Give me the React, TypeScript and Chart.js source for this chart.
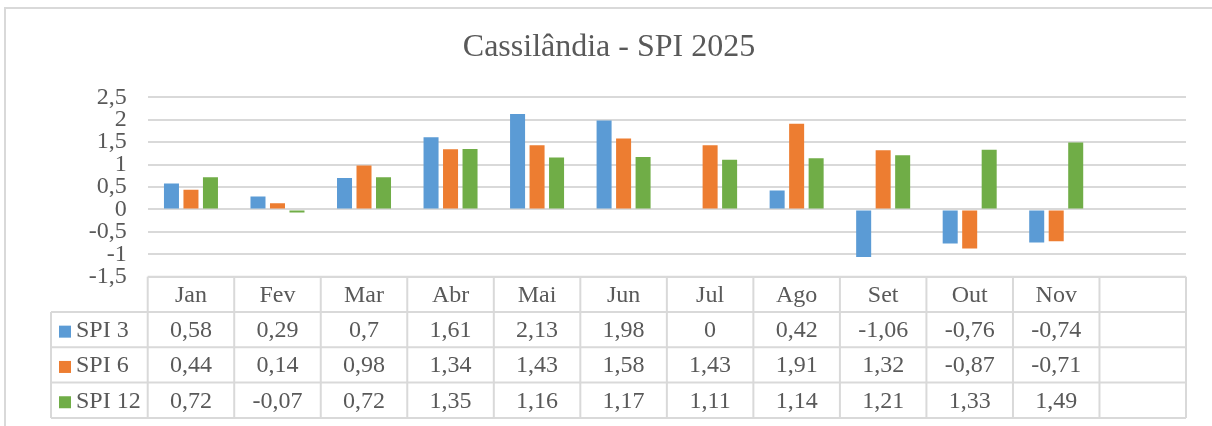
import React, { useEffect, useRef } from "react";
import { Chart, registerables } from "chart.js";

Chart.register(...registerables);

const categories = ["Jan", "Fev", "Mar", "Abr", "Mai", "Jun", "Jul", "Ago", "Set", "Out", "Nov", ""];
const spi3 = [0.58, 0.29, 0.7, 1.61, 2.13, 1.98, 0, 0.42, -1.06, -0.76, -0.74, null];
const spi6 = [0.44, 0.14, 0.98, 1.34, 1.43, 1.58, 1.43, 1.91, 1.32, -0.87, -0.71, null];
const spi12 = [0.72, -0.07, 0.72, 1.35, 1.16, 1.17, 1.11, 1.14, 1.21, 1.33, 1.49, null];
const seriesNames = ["SPI 3", "SPI 6", "SPI 12"];
const seriesColors = ["#5B9BD5", "#ED7D31", "#70AD47"];
const chartTitle = "Cassilândia - SPI 2025";
const yMin = -1.5;
const yMax = 2.5;
const yStep = 0.5;

const FONT = "'Liberation Serif', 'Times New Roman', serif";
const TEXT = "#595959";
const LINE = "#D9D9D9";

const fmt = (v: number | null) => (v === null || v === undefined ? "" : String(v).replace(".", ","));

const tablePlugin = {
  id: "dataTable",
  afterDraw(chart: any) {
    const { ctx, chartArea } = chart;
    const xs = chart.scales.x;
    const n = categories.length;
    const colW = (xs.right - xs.left) / n;
    const top = chartArea.bottom;
    const rowH = 35.3;
    const legendLeft = 51;
    const left = xs.left;
    const right = xs.right;
    const rows = [spi3, spi6, spi12];

    ctx.save();
    ctx.strokeStyle = LINE;
    ctx.lineWidth = 2;
    const line = (x1: number, y1: number, x2: number, y2: number) => {
      ctx.beginPath();
      ctx.moveTo(x1, y1);
      ctx.lineTo(x2, y2);
      ctx.stroke();
    };
    line(left, top, right, top);
    for (let r = 1; r <= 4; r++) line(legendLeft, top + r * rowH, right, top + r * rowH);
    for (let i = 0; i <= n; i++) {
      const x = i < n ? xs.getPixelForValue(i) - colW / 2 : xs.getPixelForValue(n - 1) + colW / 2;
      line(x, top, x, top + 4 * rowH);
    }
    line(legendLeft, top + rowH, legendLeft, top + 4 * rowH);

    ctx.fillStyle = TEXT;
    ctx.font = `24px ${FONT}`;
    ctx.textBaseline = "middle";
    ctx.textAlign = "center";
    for (let i = 0; i < n; i++) {
      const cx = xs.getPixelForValue(i);
      ctx.fillText(categories[i], cx, top + rowH / 2 + 1.5);
      rows.forEach((row, r) => {
        ctx.fillText(fmt(row[i]), cx, top + (r + 1) * rowH + rowH / 2 + 1);
      });
    }
    ctx.textAlign = "left";
    rows.forEach((_, r) => {
      const cy = top + (r + 1) * rowH + rowH / 2;
      ctx.fillStyle = seriesColors[r];
      ctx.fillRect(59, cy - 4, 12, 12);
      ctx.fillStyle = TEXT;
      ctx.fillText(seriesNames[r], 76, cy + 1);
    });
    ctx.restore();
  },
};

export default function App() {
  const canvasRef = useRef<HTMLCanvasElement | null>(null);

  useEffect(() => {
    if (!canvasRef.current) return;
    const chart = new Chart(canvasRef.current, {
      type: "bar",
      data: {
        labels: categories,
        datasets: [spi3, spi6, spi12].map((d, i) => ({
          label: seriesNames[i],
          data: d,
          backgroundColor: seriesColors[i],
          borderWidth: 0,
          barPercentage: 0.77,
          categoryPercentage: 0.676,
        })),
      },
      options: {
        responsive: false,
        animation: false,
        layout: { padding: { left: 32, right: 26, top: 0, bottom: 426 - 276.7 } },
        plugins: {
          legend: { display: false },
          tooltip: { enabled: false },
          title: {
            display: true,
            text: chartTitle,
            color: TEXT,
            font: { family: FONT, size: 32, weight: "normal" },
            padding: { top: 28.4, bottom: 30.5 },
          },
        },
        scales: {
          x: { display: false, offset: true },
          y: {
            min: yMin,
            max: yMax,
            afterFit: (scale: any) => {
              scale.width = 147.7 - 32;
            },
            ticks: {
              stepSize: yStep,
              autoSkip: false,
              color: TEXT,
              padding: 21,
              font: { family: FONT, size: 24 },
              callback: (v: any) => fmt(Number(v)),
            },
            grid: { color: LINE, lineWidth: 2, drawTicks: false },
            border: { display: false },
          },
        },
      },
      plugins: [tablePlugin],
    });
    return () => chart.destroy();
  }, []);

  return (
    <div
      style={{
        position: "fixed",
        left: 0,
        top: 0,
        width: 1212,
        height: 426,
        overflow: "hidden",
        background: "#fff",
      }}
    >
      <div
        style={{
          position: "absolute",
          left: 4,
          top: 7,
          width: 1300,
          height: 500,
          border: `2px solid ${LINE}`,
        }}
      />
      <canvas ref={canvasRef} width={1212} height={426} style={{ position: "absolute", left: 0, top: 0 }} />
    </div>
  );
}
